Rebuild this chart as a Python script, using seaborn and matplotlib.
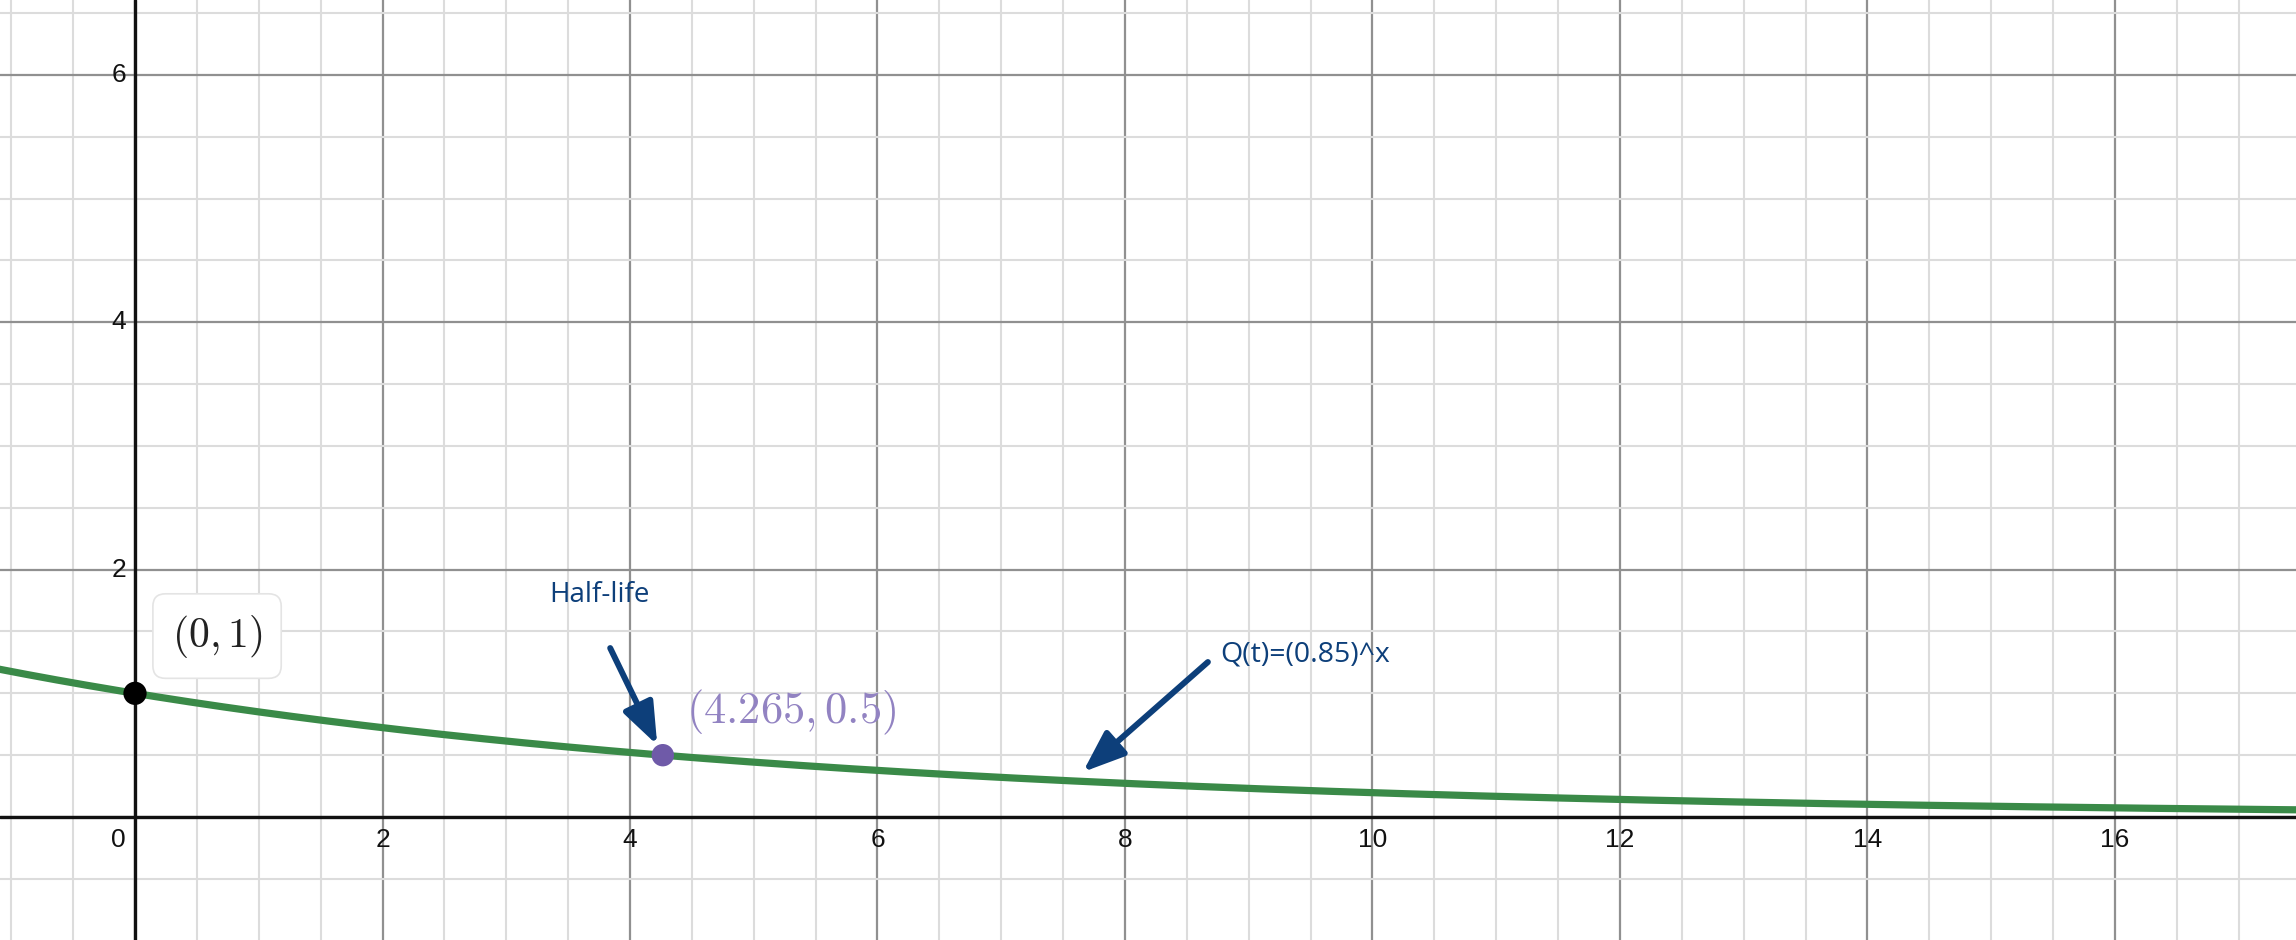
import matplotlib
matplotlib.use("Agg")
import matplotlib.pyplot as plt
import seaborn as sns
import numpy as np
import pandas as pd
from matplotlib.ticker import MultipleLocator
from matplotlib.patches import FancyArrowPatch

sns.set_style("white")
plt.rcParams['font.family'] = ['Liberation Sans', 'DejaVu Sans']
plt.rcParams['mathtext.fontset'] = 'cm'

# data
base = 0.85
x_vals = np.linspace(-1.1, 17.5, 400)
curve = pd.DataFrame({"t": x_vals, "Q": base ** x_vals})
start_pt = (0, 1)
half_pt = (4.265, 0.5)
x_tick_vals = [0, 2, 4, 6, 8, 10, 12, 14, 16]
y_tick_vals = [2, 4, 6]

arrow_col = "#0d3f7a"
green = "#3a8a48"

fig = plt.figure(figsize=(22.96, 9.4), dpi=100)
ax = fig.add_axes([0, 0, 1, 1])
ax.set_xlim(-1.091, 17.463)
ax.set_ylim(-0.994, 6.605)

# grid
ax.xaxis.set_major_locator(MultipleLocator(2))
ax.xaxis.set_minor_locator(MultipleLocator(0.5))
ax.yaxis.set_major_locator(MultipleLocator(2))
ax.yaxis.set_minor_locator(MultipleLocator(0.5))
ax.grid(which="minor", color="#dcdcdc", lw=1.5, zorder=0)
ax.grid(which="major", color="#909090", lw=1.6, zorder=0)
ax.tick_params(which="both", length=0, labelbottom=False, labelleft=False)
for s in ax.spines.values():
    s.set_visible(False)
ax.set_axisbelow(True)

ax.axhline(0, color="#111111", lw=2.4, zorder=1)
ax.axvline(0, color="#111111", lw=2.4, zorder=1)

# tick labels
for v in x_tick_vals:
    if v == 0:
        ax.annotate("0", (0, 0), xytext=(-6.5, -16.5), textcoords="offset points",
                    ha="right", va="center", fontsize=19, color="#111111")
    else:
        ax.annotate(str(v), (v, 0), xytext=(0, -16.5), textcoords="offset points",
                    ha="center", va="center", fontsize=19, color="#111111")
for v in y_tick_vals:
    ax.annotate(str(v), (0, v), xytext=(-6.5, 0), textcoords="offset points",
                ha="right", va="center", fontsize=19, color="#111111")

# curve
sns.lineplot(data=curve, x="t", y="Q", color=green, lw=5.2, ax=ax, zorder=3)
ax.set_xlabel("")
ax.set_ylabel("")

# points
sns.scatterplot(x=[start_pt[0]], y=[start_pt[1]], color="black", s=280,
                edgecolor="none", ax=ax, zorder=5)
sns.scatterplot(x=[half_pt[0]], y=[half_pt[1]], color="#6f5aa8", s=260,
                edgecolor="none", ax=ax, zorder=5)

# point labels
ax.text(0.663, 1.463, r"$(0, 1)$", fontsize=30, ha="center", va="center",
        color="#222222", zorder=6,
        bbox=dict(boxstyle="round,pad=0.45,rounding_size=0.3", fc="white",
                  ec="#e4e4e4", lw=1.2))
ax.text(4.45, 0.85, r"$(4.265, 0.5)$", fontsize=32, ha="left", va="center",
        color="#9283c2", zorder=6)

# annotations
ax.text(3.345, 1.795, "Half-life", fontsize=20, ha="left", va="center",
        color=arrow_col, family=["Open Sans", "DejaVu Sans"], zorder=6)
ax.text(8.77, 1.31, "Q(t)=(0.85)^x", fontsize=20.5, ha="left", va="center",
        color=arrow_col, family=["Open Sans", "DejaVu Sans"], zorder=6)

for tail, tip in [((3.84, 1.366), (4.22, 0.582)), ((8.67, 1.253), (7.66, 0.364))]:
    arr = FancyArrowPatch(tail, tip, arrowstyle="-|>,head_length=1.7,head_width=0.65",
                          mutation_scale=15, color=arrow_col, lw=4.3,
                          capstyle="round", shrinkA=0, shrinkB=0, zorder=7)
    ax.add_patch(arr)

fig.savefig("out.png", dpi=100)
